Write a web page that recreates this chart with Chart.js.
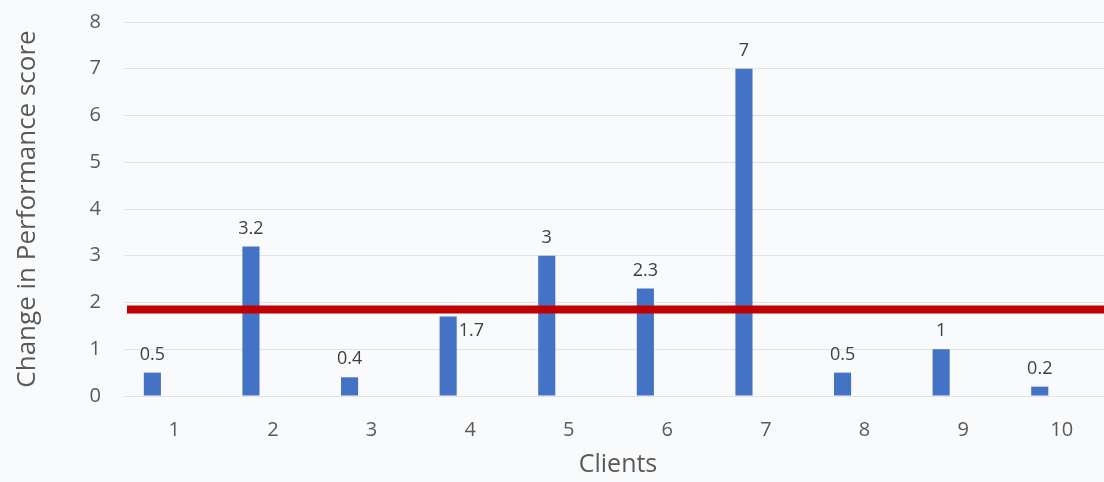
<!DOCTYPE html>
<html>
<head>
<meta charset="utf-8">
<script src="https://cdn.jsdelivr.net/npm/chart.js@4.4.0/dist/chart.umd.min.js"></script>
<style>
  html, body { margin: 0; padding: 0; background: #f9fafc; }
  #wrap { width: 1104px; height: 482px; overflow: hidden; }
  #chart { display: block; margin-top: -14px; }
</style>
</head>
<body>
<div id="wrap"><canvas id="chart" width="1120" height="496"></canvas></div>
<script>
/* ---------- DATA ---------- */
const clients = ['1', '2', '3', '4', '5', '6', '7', '8', '9', '10'];
const scoreChange = [0.5, 3.2, 0.4, 1.7, 3, 2.3, 7, 0.5, 1, 0.2];
const emptySeries = clients.map(() => null);
const threshold = 1.85;
const yTicks = [0, 1, 2, 3, 4, 5, 6, 7, 8];

const FONT = '"Open Sans", "Noto Sans", sans-serif';
const TEXT = '#595959';

/* ---------- PLUGINS ---------- */

// red threshold line, runs past the right edge of the plot
const thresholdLine = {
  id: 'thresholdLine',
  afterDatasetsDraw(chart) {
    const { ctx, chartArea, scales } = chart;
    const y = scales.y.getPixelForValue(threshold);
    ctx.save();
    ctx.strokeStyle = '#c00000';
    ctx.lineWidth = 8;
    ctx.beginPath();
    ctx.moveTo(chartArea.left + 2, y);
    ctx.lineTo(chart.width, y);
    ctx.stroke();
    ctx.restore();
  }
};

// value labels; the 4th one sits beside its bar like in the original
const sideLabelIndex = 3;
const valueLabels = {
  id: 'valueLabels',
  afterDraw(chart) {
    const { ctx } = chart;
    const bars = chart.getDatasetMeta(0).data;
    ctx.save();
    ctx.font = '18px ' + FONT;
    ctx.fillStyle = '#404040';
    ctx.textBaseline = 'middle';
    bars.forEach((bar, i) => {
      const txt = String(scoreChange[i]);
      if (i === sideLabelIndex) {
        ctx.textAlign = 'left';
        ctx.fillText(txt, bar.x + bar.width / 2 + 2, bar.y + 14);
      } else {
        ctx.textAlign = 'center';
        ctx.fillText(txt, bar.x, bar.y - 18);
      }
    });
    ctx.restore();
  }
};

/* ---------- CHART ---------- */

new Chart(document.getElementById('chart'), {
  type: 'bar',
  data: {
    labels: clients,
    datasets: [
      { label: 'Change', data: scoreChange, backgroundColor: '#4472c4' },
      { label: 'blank', data: emptySeries, backgroundColor: 'rgba(0,0,0,0)' }
    ]
  },
  options: {
    responsive: false,
    animation: false,
    categoryPercentage: 0.89,
    barPercentage: 0.39,
    layout: { padding: { left: 0, right: 9, top: 0, bottom: 0 } },
    plugins: {
      legend: { display: false },
      tooltip: { enabled: false }
    },
    scales: {
      x: {
        grid: { display: false, drawTicks: false },
        border: { display: false },
        ticks: { color: TEXT, font: { family: FONT, size: 20 }, padding: 22 },
        title: {
          display: true, text: 'Clients', color: TEXT,
          font: { family: FONT, size: 25 }, padding: { top: 0, bottom: 2 }
        },
        afterFit(scale) { scale.height = 86; }
      },
      y: {
        min: 0,
        max: 8,
        afterBuildTicks(scale) { scale.ticks = yTicks.map(v => ({ value: v })); },
        grid: { color: '#e2e3e6', drawTicks: false },
        border: { display: false },
        ticks: { color: TEXT, font: { family: FONT, size: 20 }, padding: 24 },
        title: {
          display: true, text: 'Change in Performance score', color: TEXT,
          font: { family: FONT, size: 26 }, padding: { top: 12, bottom: 0 }
        },
        afterFit(scale) { scale.width = 125; }
      }
    }
  },
  plugins: [thresholdLine, valueLabels]
});
</script>
</body>
</html>
